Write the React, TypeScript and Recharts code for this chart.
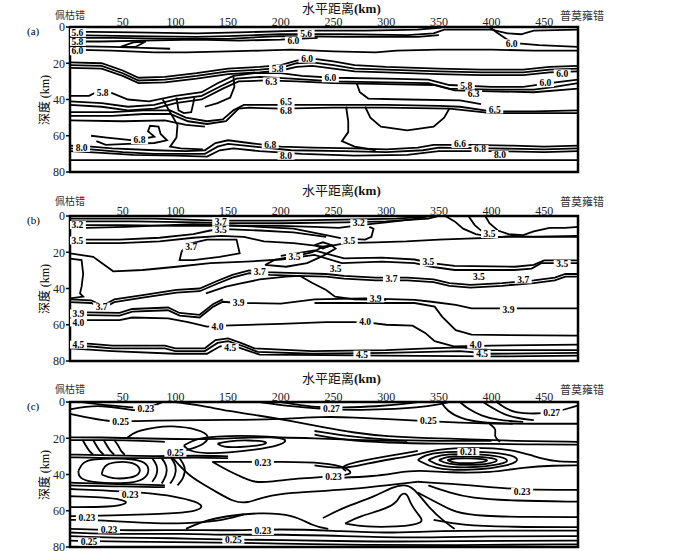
import React from "react";
import {
  ComposedChart,
  Line,
  Scatter,
  XAxis,
  YAxis,
  ReferenceArea,
} from "recharts";

const SERIF = '"Liberation Serif", "DejaVu Serif", serif';
const CJK = '"Noto Sans CJK SC", sans-serif';

const X_MAX = 482;
const xTicks = [50, 100, 150, 200, 250, 300, 350, 400, 450];
const yTicks = [0, 20, 40, 60, 80];
const panelLetters = ["(a)", "(b)", "(c)"];

// contour polylines: [distance km, depth km]
const panelAContours = [
  [[0, 2.5], [60, 3], [120, 3.5], [160, 3], [220, 2], [280, 2], [330, 1.5], [352, 0.3]],
  [[0, 4.5], [60, 5], [120, 5.5], [150, 5], [200, 4], [260, 4], [320, 4.5], [345, 3.5], [355, 1.5], [400, 1.5], [415, 3.5], [428, 4], [440, 2], [482, 1.5]],
  [[0, 6], [40, 6], [100, 6.5], [150, 6.5], [200, 5], [260, 5.5], [330, 5.5], [350, 4.5]],
  [[0, 8], [30, 8], [70, 7.5], [120, 7], [160, 7.5], [200, 7], [235, 6]],
  [[48, 11], [60, 8.5], [72, 8], [62, 11], [48, 11]],
  [[0, 10.5], [40, 11], [70, 11.5], [95, 12]],
  [[0, 12.5], [40, 13], [80, 14], [110, 14], [150, 13.5], [180, 13], [210, 12.5], [250, 13.5], [290, 14], [310, 13], [350, 12.5], [400, 12.5], [440, 13], [482, 13]],
  [[398, 0], [405, 3], [415, 7], [425, 9], [445, 10], [482, 11]],
  [[0, 19.5], [30, 20], [50, 24], [65, 28], [90, 27.5], [120, 25.5], [150, 23], [180, 22], [200, 21], [215, 18.5], [230, 17.5], [250, 19], [270, 21], [300, 22], [350, 23], [390, 23.5], [430, 23.5], [455, 22], [482, 21.5]],
  [[0, 21], [30, 21.5], [50, 25.5], [65, 29.5], [90, 29], [120, 27], [150, 24.5], [180, 23.5], [200, 22.5], [215, 20], [230, 19.5], [250, 21], [270, 23], [300, 23.5], [350, 24.5], [390, 25], [430, 25], [455, 23.5], [482, 23]],
  [[0, 22.5], [30, 23], [50, 27], [65, 31], [90, 30.5], [120, 28.5], [150, 26], [180, 25], [200, 24], [215, 22], [230, 21.5], [250, 23], [270, 24.5], [300, 25], [350, 26], [390, 26.5], [430, 26.5], [455, 25], [482, 24.5]],
  [[0, 38], [18, 38], [25, 36], [40, 36.5], [55, 40], [75, 41], [100, 38], [125, 36], [140, 31], [155, 27], [175, 25.5], [200, 25.5], [220, 27], [250, 28], [300, 28.5], [340, 29], [360, 32], [400, 33], [430, 33], [455, 31], [482, 29]],
  [[0, 41], [30, 42], [55, 44], [80, 43], [100, 40], [125, 38], [142, 33], [158, 28.5], [180, 27.5], [210, 28.5], [250, 30], [300, 30.5], [340, 31], [360, 34], [400, 34.5], [440, 34.5], [460, 33], [482, 31]],
  [[0, 43], [30, 44], [55, 46], [80, 45], [100, 42], [125, 40], [145, 34], [160, 30], [185, 29.5], [215, 30], [250, 31], [300, 31.5], [345, 32], [365, 35], [400, 35.5], [440, 36], [482, 34]],
  [[0, 47], [40, 47], [70, 46], [95, 46], [110, 50], [130, 52], [145, 51], [155, 46], [165, 43], [200, 43], [250, 43], [300, 43], [350, 43.5], [370, 44], [400, 46.5], [440, 46.5], [482, 46]],
  [[0, 49], [40, 49], [70, 48], [95, 48], [112, 52], [130, 53.5], [148, 52], [160, 45], [170, 44.5], [200, 45], [250, 44.5], [300, 44.5], [360, 45], [400, 47.5], [482, 47.5]],
  [[0, 51.5], [50, 52], [90, 51.5], [110, 54], [128, 55]],
  [[101, 39], [103, 46], [108, 47.5], [115, 47], [117, 42], [118, 39]],
  [[155, 27], [156, 33], [152, 39], [140, 42], [128, 44]],
  [[88, 40], [95, 47], [102, 54], [101, 61], [95, 66], [105, 67], [126, 67.5]],
  [[20, 60], [35, 61], [60, 62.5], [80, 60.5], [74, 57.5], [76, 54.5], [84, 55], [86, 59], [92, 62.5], [80, 64], [55, 64.5], [34, 65], [25, 63]],
  [[0, 65.5], [20, 66], [40, 67], [80, 68], [110, 68.5], [128, 68], [138, 64], [150, 62.5], [170, 64], [200, 66], [230, 66.5], [270, 67], [300, 67.5], [330, 66.5], [345, 65], [380, 65], [420, 65.5], [450, 66], [482, 65.5]],
  [[0, 67], [20, 67.5], [50, 69], [80, 70], [128, 70], [140, 66], [150, 64.5], [175, 66], [210, 68], [260, 68.5], [300, 69], [335, 68], [350, 66.5], [400, 67], [450, 67.5], [482, 67]],
  [[0, 68.5], [30, 69.5], [60, 70.5], [100, 71], [130, 71.5], [142, 68], [155, 67], [180, 68.5], [220, 70], [270, 71], [320, 70.5], [350, 68.5], [400, 68.5], [450, 69], [482, 68.5]],
  [[0, 73.5], [482, 73.5]],
  [[262, 44], [264, 52], [264, 58], [258, 63], [270, 66], [290, 68]],
  [[272, 31], [275, 36], [283, 39.5], [320, 40], [370, 40.5], [390, 42.5]],
  [[280, 44], [285, 50], [295, 55], [320, 57], [345, 55], [355, 50], [360, 45]],
];

const panelALabels = [
  [7, 3, "5.6"], [7, 8.2, "5.8"], [7, 13.4, "6.0"], [224, 3.5, "5.6"], [212, 7.5, "6.0"],
  [225, 17.5, "6.0"], [197, 23, "5.8"], [191, 30, "6.3"], [247, 28.3, "6.0"],
  [376, 32.3, "5.8"], [383, 37, "6.3"], [467, 25.6, "6.0"], [451, 31, "6.0"],
  [419, 9, "6.0"], [31, 36.5, "5.8"], [205, 41.3, "6.5"], [205, 46.3, "6.8"],
  [403, 45.5, "6.5"], [66, 62.4, "6.8"], [190, 64.8, "6.8"], [11, 66.7, "8.0"],
  [205, 71, "8.0"], [370, 64.5, "6.6"], [389, 67.4, "6.8"], [408, 70.5, "8.0"],
];

const panelBContours = [
  [[0, 1.5], [80, 1.5], [140, 2.5], [200, 2.5], [260, 2], [310, 1.5], [345, 0]],
  [[0, 3], [60, 3], [120, 3.5], [150, 4], [200, 4], [260, 3.5], [300, 3], [340, 1.5], [350, 0]],
  [[0, 5], [50, 5], [100, 5.5], [150, 5.5], [200, 5.5], [232, 6], [255, 6.5], [275, 5], [300, 3.5], [330, 1.5], [340, 0]],
  [[15, 6.5], [53, 6], [117, 4.5], [148, 5], [180, 6], [212, 7], [243, 10.5], [258, 12.3], [280, 13], [286, 11.5], [288, 7], [284, 6]],
  [[0, 13], [47, 13], [85, 12], [117, 10], [133, 8], [148, 7.2], [180, 8], [212, 9], [243, 11.5]],
  [[0, 15], [47, 15], [85, 14], [117, 12], [143, 11], [165, 11.5], [184, 14], [212, 15], [243, 17], [261, 15], [290, 14.5], [319, 14], [350, 13], [376, 12.5], [400, 12], [420, 11], [440, 11.5], [482, 11.5]],
  [[356, 0], [365, 3], [373, 7], [385, 10], [400, 11.5], [430, 11.5], [482, 11]],
  [[378, 0], [384, 5], [392, 9], [404, 11]],
  [[394, 0], [398, 4], [406, 8], [416, 10], [430, 10.5], [440, 8.5], [455, 6.5], [470, 6.5], [482, 6]],
  [[106, 19.5], [112, 15.5], [130, 13], [158, 13], [161, 20.6], [142, 22.5], [117, 24.3], [104, 24.3], [106, 19.5]],
  [[0, 23.5], [11, 24.3], [12.5, 32], [11, 39], [9.5, 42.7], [12.5, 44.5], [0, 45.4]],
  [[0, 20.6], [22, 22.5], [41, 30.5], [69, 29.8], [101, 28], [133, 26], [167, 25.2], [200, 24], [232, 21.5], [258, 26], [296, 25.2], [327, 26], [343, 28], [365, 29.8], [422, 29.8], [438, 29], [447, 26], [482, 26]],
  [[200, 22], [232, 19], [260, 23.4], [296, 23], [327, 24], [343, 26], [365, 27.5], [422, 28], [440, 27], [450, 24.5], [482, 24.5]],
  [[185, 27], [195, 24], [215, 22], [230, 20], [240, 17], [248, 16], [252, 18], [240, 22], [225, 26], [205, 28], [185, 27]],
  [[232, 16], [240, 14.5], [248, 16], [240, 18], [232, 16]],
  [[0, 46], [20, 46.5], [31, 49.5], [42, 46], [69, 43.6], [101, 40.8], [123, 40], [139, 36], [154, 32.5], [170, 30], [185, 31], [215, 31.5], [243, 32], [260, 33], [290, 34], [320, 34], [345, 35], [360, 37], [380, 38], [410, 37], [440, 35.5], [460, 34], [470, 32], [482, 32]],
  [[0, 47.5], [20, 48], [31, 51], [42, 47.5], [69, 45], [101, 42.3], [123, 41.5], [139, 37.5], [154, 34], [170, 31.5], [190, 32.5], [215, 33], [243, 33.5], [260, 34.5], [290, 35.5], [320, 35.5], [345, 36.5], [360, 38.5], [380, 39.5], [410, 38.5], [440, 37], [460, 35.5], [470, 33.5], [482, 33.5]],
  [[129, 42.7], [148, 39], [161, 37.3], [180, 35], [205, 33.5], [218, 33], [230, 37], [243, 40.8], [251.5, 44.5], [270, 46], [300, 46.3]],
  [[0, 54.6], [47, 55], [59, 52.8], [93, 52], [104, 55], [123, 56], [136, 50], [145, 47.3], [160, 48], [200, 48.3], [232, 46], [280, 45.5], [327, 46.3], [343, 47.3], [366, 49], [381, 51], [482, 51]],
  [[0, 53], [47, 53.5], [59, 51.3], [93, 50.5], [104, 53.5], [123, 54.5], [136, 48.5], [145, 46]],
  [[0, 57.4], [47, 57.4], [59, 56], [93, 56.5], [112, 58.5], [130, 61], [145, 60.5], [200, 59.5], [243, 58.5], [280, 58.5], [300, 60], [325, 60.5], [337, 64.5], [346, 69], [365, 72], [400, 71.5], [482, 71]],
  [[232, 48], [327, 48], [346, 50], [353, 55.5], [366, 63], [381, 65.5], [482, 66]],
  [[0, 70], [20, 70.5], [40, 71.5], [90, 71.5], [100, 73], [128, 73], [138, 68.5], [150, 67.5], [162, 70], [175, 73], [230, 74.5], [300, 74], [340, 73], [370, 72.5], [400, 74], [482, 74]],
  [[0, 71.5], [20, 72], [40, 73], [90, 73], [100, 74.5], [128, 74.5], [140, 70], [150, 69], [165, 72], [178, 75], [230, 76], [300, 75.5], [340, 75], [370, 74.5], [400, 76], [482, 75.5]],
  [[0, 73], [40, 74.5], [100, 76], [130, 76], [142, 72], [152, 71], [170, 74.5], [180, 76.5], [300, 77], [400, 77.5], [482, 77]],
];

const panelBLabels = [
  [7, 5, "3.2"], [7, 13.5, "3.5"], [143, 3, "3.7"], [143, 7.5, "3.5"], [115, 17, "3.7"],
  [213, 22.5, "3.5"], [180, 31, "3.7"], [252, 29, "3.5"], [30, 50, "3.7"], [8, 53.8, "3.9"],
  [8, 58.7, "4.0"], [160, 48, "3.9"], [140, 61, "4.0"], [8, 71, "4.5"], [152, 72.5, "4.5"],
  [274, 4, "3.2"], [265, 13.5, "3.5"], [398, 10, "3.5"], [340, 25.5, "3.5"], [467, 26.5, "3.5"],
  [305, 34.5, "3.7"], [388, 33.5, "3.5"], [430, 35, "3.7"], [290, 45.5, "3.9"], [416, 52, "3.9"],
  [280, 58.5, "4.0"], [385, 71, "4.0"], [277, 76.5, "4.5"], [391, 76, "4.5"],
];

const panelCContours = [
  [[0, 4], [15, 2.5], [30, 2], [50, 3.5], [62, 5], [72, 3.5], [82, 1.5], [88, 0]],
  [[10, 0], [30, 1.5], [50, 2.5], [60, 3]],
  [[0, 6.5], [20, 9], [40, 11], [60, 10.5], [100, 10], [150, 10], [200, 9.5], [240, 8], [270, 8.5], [300, 9.5], [340, 10.5], [370, 11.5], [400, 12], [440, 12], [482, 12]],
  [[100, 0], [125, 2], [150, 5], [180, 7.5], [210, 10.5], [240, 14], [270, 17], [300, 19], [340, 20], [380, 20.5], [420, 21.5], [482, 22]],
  [[180, 0], [210, 2.5], [240, 4], [270, 4.5], [300, 4], [330, 3], [350, 1.5], [360, 0]],
  [[200, 0], [230, 3], [260, 3], [290, 2.5], [320, 1], [330, 0]],
  [[352, 0], [358, 5], [370, 9], [390, 11.5], [420, 12]],
  [[370, 0], [378, 4], [390, 7.5], [405, 10], [430, 11]],
  [[392, 0], [400, 3], [412, 7], [425, 9], [440, 10]],
  [[405, 0], [412, 3], [422, 6], [440, 6.5], [458, 6], [470, 4], [482, 2]],
  [[0, 19.5], [30, 19.5], [60, 20], [100, 20.5], [140, 20.5], [170, 19.5], [200, 19.5], [230, 20], [270, 21], [320, 21.5]],
  [[0, 21], [40, 21], [70, 21.5], [90, 22]],
  [[54, 20], [62, 16], [82, 14], [95, 13], [123, 15], [133, 19], [128, 23], [115, 26], [100, 28]],
  [[12, 21], [15, 24], [18, 27], [22, 29]],
  [[22, 21], [25, 24], [28, 27], [32, 29]],
  [[32, 21], [35, 24], [38, 27], [42, 29]],
  [[42, 21], [46, 24], [48, 27], [52, 29]],
  [[0, 29], [40, 29.5], [80, 30], [120, 29.5], [150, 30]],
  [[0, 30.5], [40, 31], [80, 31], [120, 30.5], [150, 31]],
  [[30, 40], [32, 35], [42, 33], [58, 33], [67, 36], [66, 40], [58, 42], [40, 42.5], [30, 40]],
  [[8, 38], [12, 33], [22, 31.5], [45, 31], [70, 32], [76, 37], [72, 42], [62, 44.5], [40, 45], [15, 44], [8, 41], [8, 38]],
  [[78, 31], [83, 35], [83, 40], [78, 44]],
  [[87, 31], [92, 35], [92, 40], [87, 45]],
  [[96, 31], [101, 35], [100, 41], [95, 45]],
  [[104, 31], [110, 36], [108, 42], [102, 46]],
  [[0, 44.5], [30, 45], [60, 45.5], [90, 46]],
  [[0, 46], [40, 46.5], [90, 47]],
  [[0, 48], [40, 49], [70, 50], [100, 52], [120, 55], [128, 58], [115, 61], [80, 62], [40, 62.5], [0, 63]],
  [[0, 52], [30, 52.5], [52, 54], [55, 56], [40, 58], [0, 58]],
  [[0, 65], [20, 65], [50, 66], [80, 67], [110, 67], [140, 66], [165, 62]],
  [[108, 24], [120, 20], [140, 19], [160, 18.5], [190, 19], [208, 20.5], [200, 24], [175, 26.5], [150, 28], [130, 28.5], [112, 27], [108, 24]],
  [[140, 23], [150, 21.5], [170, 21], [190, 22], [182, 24], [160, 25], [145, 25], [140, 23]],
  [[135, 33], [160, 33], [200, 33], [243, 33.5], [262, 36], [270, 40], [250, 41], [220, 42], [190, 44], [176, 44.5], [165, 42], [150, 38], [135, 33]],
  [[95, 29], [102, 34], [112, 40], [125, 45], [140, 50], [155, 55], [168, 56], [185, 52], [210, 50], [243, 49], [270, 48], [300, 46], [330, 44]],
  [[110, 70], [125, 66], [148, 62.8], [180, 61], [212, 62], [231, 68.6], [245, 70]],
  [[261, 67], [275, 63], [300, 59], [311, 55], [313, 51], [320, 50], [322, 55], [330, 62], [338, 67], [310, 69], [280, 69], [261, 67]],
  [[240, 64], [260, 58], [290, 52], [305, 47], [320, 45], [330, 50], [340, 58], [355, 66], [365, 70]],
  [[330, 32], [340, 28], [375, 27], [410, 28], [428, 31], [420, 35], [380, 38], [345, 37], [330, 32]],
  [[340, 32], [350, 29], [375, 28.5], [405, 29.5], [418, 32], [410, 34.5], [378, 36.5], [350, 35.5], [340, 32]],
  [[350, 32], [358, 30], [375, 29.8], [398, 30.5], [408, 32], [400, 34], [378, 35], [358, 34.3], [350, 32]],
  [[358, 32], [365, 31], [378, 31], [392, 31.5], [398, 32.3], [390, 33.4], [375, 34], [363, 33.4], [358, 32]],
  [[232, 35], [262, 37], [280, 34], [310, 31], [330, 29], [350, 26], [380, 25], [420, 26], [440, 30], [460, 33], [482, 33]],
  [[250, 42], [290, 41], [310, 39], [330, 37.5], [360, 39], [400, 39], [430, 36], [460, 35], [482, 35]],
  [[262, 38], [256, 36], [270, 33], [300, 30], [330, 27]],
  [[232, 18], [260, 21], [300, 22.5], [350, 23], [400, 23], [440, 23.5], [482, 23.5]],
  [[232, 16], [265, 19], [300, 21], [350, 21.5], [400, 21.5]],
  [[398, 12], [405, 15], [402, 19], [408, 22]],
  [[330, 44], [360, 45], [400, 47], [430, 48.5], [482, 48.5]],
  [[340, 46], [360, 50], [380, 53], [420, 54.5], [482, 55]],
  [[330, 50], [350, 56], [365, 61], [390, 63], [440, 63.5], [482, 63.5]],
  [[345, 65], [370, 68], [420, 69], [482, 69]],
  [[0, 70], [60, 71], [110, 70.5], [150, 71], [200, 70], [250, 71], [300, 72.5], [350, 71], [420, 71], [482, 71]],
  [[0, 72], [50, 73], [110, 72.5], [150, 73.5], [200, 73], [260, 74], [320, 75], [400, 74], [482, 74]],
  [[0, 74], [40, 75], [100, 75], [140, 76], [200, 76], [270, 77], [340, 77], [420, 76.5], [482, 76.5]],
  [[0, 76.5], [50, 77], [120, 77.5], [200, 78], [280, 79], [360, 79], [482, 78.5]],
];

const panelCLabels = [
  [72, 4, "0.23"], [48, 11, "0.25"], [248, 4, "0.27"], [100, 28, "0.25"], [183, 33.5, "0.23"],
  [250, 41, "0.23"], [378, 27.5, "0.21"], [340, 10.5, "0.25"], [457, 6, "0.27"],
  [429, 49.5, "0.23"], [57, 51, "0.23"], [16, 64, "0.23"], [37, 70.3, "0.23"],
  [18, 77, "0.25"], [155, 76, "0.25"], [183, 71.2, "0.23"],
];

function ContourLabel(props: any) {
  const { cx, cy, payload } = props;
  if (cx == null || cy == null) return null;
  const w = payload.t.length * 5 + 2;
  return (
    <g>
      <rect x={cx - w / 2} y={cy - 4} width={w} height={8} fill="#fff" />
      <text
        x={cx}
        y={cy + 3.2}
        textAnchor="middle"
        fontSize={9.5}
        fontWeight="bold"
        fontFamily={SERIF}
        fill="#000"
      >
        {payload.t}
      </text>
    </g>
  );
}

function Panel({ top, letter, titleY, placeY, contours, labels, curve }: any) {
  const tick = { fontSize: 12, fill: "#222", fontFamily: SERIF };
  return (
    <div style={{ position: "absolute", left: 0, top, width: 700, height: 186 }}>
      <ComposedChart width={700} height={186} margin={{ top: 7, right: 122, bottom: 14, left: 40 }}>
        <XAxis
          type="number"
          dataKey="x"
          domain={[0, X_MAX]}
          ticks={xTicks}
          orientation="top"
          height={20}
          tickLine={false}
          tickSize={0}
          axisLine={false}
          tickMargin={1}
          tick={tick}
          allowDataOverflow
        />
        <YAxis
          type="number"
          dataKey="d"
          domain={[0, 80]}
          ticks={yTicks}
          reversed
          width={30}
          tickSize={4}
          tickMargin={1}
          axisLine={false}
          tickLine={{ stroke: "#000", strokeWidth: 1.5 }}
          tick={tick}
          allowDataOverflow
        />
        <ReferenceArea x1={0} x2={X_MAX} y1={0} y2={80} fill="none" stroke="#000" strokeWidth={2.5} />
        {contours.map((pts: number[][], i: number) => (
          <Line
            key={i}
            data={pts.map(([x, d]) => ({ x, d }))}
            dataKey="d"
            type={curve}
            stroke="#000"
            strokeWidth={1.8}
            dot={false}
            activeDot={false}
            isAnimationActive={false}
          />
        ))}
        <Scatter
          data={labels.map(([x, d, t]: any) => ({ x, d, t }))}
          dataKey="d"
          shape={ContourLabel}
          isAnimationActive={false}
        />
      </ComposedChart>
      <div style={{ position: "absolute", left: 302, top: titleY - 7, fontSize: 13, lineHeight: "13px", fontFamily: CJK, whiteSpace: "nowrap", color: "#111" }}>
        水平距离<span style={{ fontFamily: SERIF, fontWeight: "bold" }}>(km)</span>
      </div>
      <div style={{ position: "absolute", left: 55, top: placeY - 6, fontSize: 10, lineHeight: "11px", fontFamily: CJK, whiteSpace: "nowrap", color: "#333" }}>
        佩枯错
      </div>
      <div style={{ position: "absolute", left: 560, top: placeY - 6, fontSize: 11, lineHeight: "12px", fontFamily: CJK, whiteSpace: "nowrap", color: "#333" }}>
        普莫雍错
      </div>
      <div style={{ position: "absolute", left: 27, top: 25, fontSize: 11, lineHeight: "12px", fontFamily: SERIF }}>{letter}</div>
      <div
        style={{
          position: "absolute",
          left: 44,
          top: 100,
          transform: "translate(-50%, -50%) rotate(-90deg)",
          fontSize: 12,
          lineHeight: "13px",
          fontFamily: CJK,
          whiteSpace: "nowrap",
        }}
      >
        深度 <span style={{ fontFamily: SERIF }}>(km)</span>
      </div>
    </div>
  );
}

export default function App() {
  return (
    <div style={{ position: "absolute", left: 0, top: 0, width: 700, height: 551, background: "#fff", overflow: "hidden" }}>
      <Panel top={0} letter={panelLetters[0]} titleY={8} placeY={15} contours={panelAContours} labels={panelALabels} curve="linear" />
      <Panel top={189} letter={panelLetters[1]} titleY={1} placeY={12} contours={panelBContours} labels={panelBLabels} curve="linear" />
      <Panel top={375} letter={panelLetters[2]} titleY={3} placeY={14} contours={panelCContours} labels={panelCLabels} curve="basis" />
    </div>
  );
}
